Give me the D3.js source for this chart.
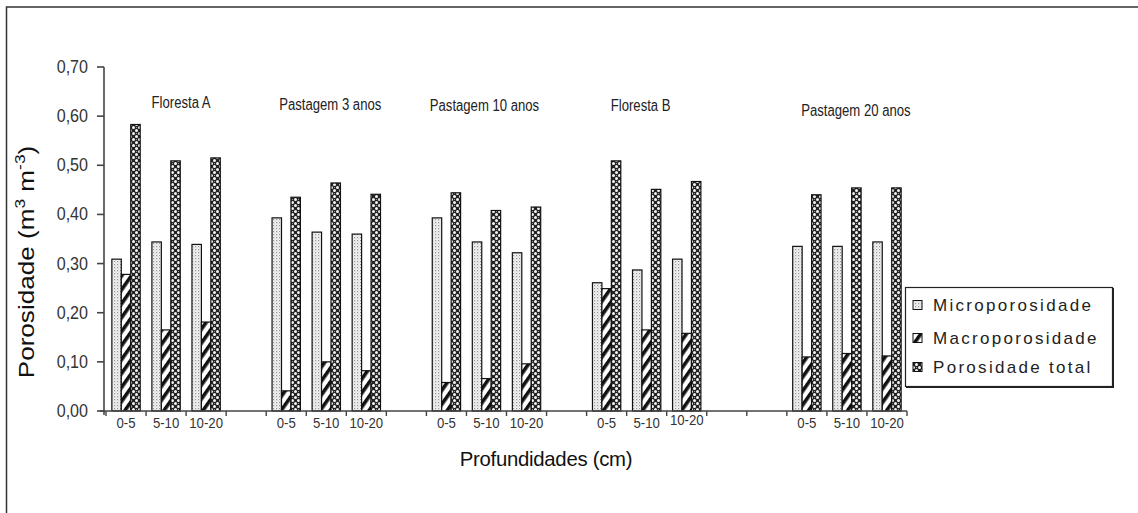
<!DOCTYPE html>
<html>
<head>
<meta charset="utf-8">
<script src="https://cdn.jsdelivr.net/npm/d3@7"></script>
<style>
  html, body { margin: 0; padding: 0; background: #fff; }
  svg { display: block; font-family: "Liberation Sans", Arial, sans-serif; }
</style>
</head>
<body>
<svg id="chart" width="1138" height="513"></svg>
<script>
// ---- data ----
const groups = ["Floresta A", "Pastagem 3 anos", "Pastagem 10 anos", "Floresta B", "Pastagem 20 anos"];
const depths = ["0-5", "5-10", "10-20"];
const series = ["Microporosidade", "Macroporosidade", "Porosidade total"];
const micro = [0.309, 0.344, 0.339, 0.393, 0.364, 0.360, 0.393, 0.344, 0.322, 0.261, 0.287, 0.309, 0.335, 0.335, 0.344];
const macro = [0.278, 0.165, 0.181, 0.041, 0.100, 0.082, 0.058, 0.066, 0.096, 0.249, 0.165, 0.158, 0.110, 0.117, 0.112];
const total = [0.583, 0.509, 0.515, 0.435, 0.464, 0.441, 0.444, 0.408, 0.415, 0.509, 0.451, 0.467, 0.440, 0.454, 0.454];
const yTicks = [0, 0.1, 0.2, 0.3, 0.4, 0.5, 0.6, 0.7];
const emptySlotsAfter = [1, 1, 1, 2, 0];   // empty categories after each group

// ---- build slot list ----
const slots = [];
groups.forEach((g, gi) => {
  depths.forEach((d, di) => slots.push({ id: g + "|" + d, group: g, depth: d, idx: gi * 3 + di }));
  for (let k = 0; k < emptySlotsAfter[gi]; k++) slots.push({ id: "gap" + gi + "_" + k, empty: true });
});
const valuesBySeries = [micro, macro, total];

const svg = d3.select("#chart");

// ---- patterns ----
const defs = svg.append("defs");
const pMicro = defs.append("pattern").attr("id", "pMicro").attr("patternUnits", "userSpaceOnUse")
  .attr("width", 3).attr("height", 3);
pMicro.append("rect").attr("width", 3).attr("height", 3).attr("fill", "#f4f4f4");
pMicro.append("rect").attr("x", 0).attr("y", 0).attr("width", 1.2).attr("height", 1.2).attr("fill", "#939393");
pMicro.append("rect").attr("x", 1.5).attr("y", 1.5).attr("width", 1.0).attr("height", 1.0).attr("fill", "#bdbdbd");

const pMacro = defs.append("pattern").attr("id", "pMacro").attr("patternUnits", "userSpaceOnUse")
  .attr("width", 8).attr("height", 8).attr("patternTransform", "rotate(35)");
pMacro.append("rect").attr("width", 8).attr("height", 8).attr("fill", "#fff");
pMacro.append("rect").attr("x", 0).attr("y", 0).attr("width", 3.6).attr("height", 8).attr("fill", "#111");

const pTotal = defs.append("pattern").attr("id", "pTotal").attr("patternUnits", "userSpaceOnUse")
  .attr("width", 6).attr("height", 6);
pTotal.append("rect").attr("width", 6).attr("height", 6).attr("fill", "#222");
pTotal.append("circle").attr("cx", 1.5).attr("cy", 1.5).attr("r", 1.5).attr("fill", "#f4f4f4");
pTotal.append("circle").attr("cx", 4.5).attr("cy", 4.5).attr("r", 1.5).attr("fill", "#f4f4f4");
pTotal.append("circle").attr("cx", 4.5).attr("cy", 1.5).attr("r", 0.6).attr("fill", "#aaa");
const fills = ["url(#pMicro)", "url(#pMacro)", "url(#pTotal)"];

// ---- frame ----
svg.append("path").attr("d", "M6.5,513 V7 H1138").attr("fill", "none").attr("stroke", "#333").attr("stroke-width", 1.5);

// ---- scales ----
const x = d3.scaleBand().domain(slots.map(s => s.id)).range([106, 907]).paddingInner(0).paddingOuter(0);
const x1 = d3.scaleBand().domain(series).range([0, x.bandwidth()]).paddingInner(0).paddingOuter(0.62);
const y = d3.scaleLinear().domain([0, 0.7]).range([411, 67]);

// ---- bars ----
const dataSlots = slots.filter(s => !s.empty);
const gBars = svg.append("g");
series.forEach((s, si) => {
  gBars.selectAll(null).data(dataSlots).enter().append("rect")
    .attr("x", d => x(d.id) + x1(s))
    .attr("y", d => y(valuesBySeries[si][d.idx]))
    .attr("width", x1.bandwidth())
    .attr("height", d => y(0) - y(valuesBySeries[si][d.idx]))
    .attr("fill", fills[si])
    .attr("stroke", "#111").attr("stroke-width", 1.2);
});

// ---- y axis ----
const yAxis = svg.append("g");
yAxis.append("line").attr("x1", 104).attr("x2", 104).attr("y1", y(0.7)).attr("y2", y(0) + 4)
  .attr("stroke", "#444").attr("stroke-width", 1.6);
yAxis.selectAll(null).data(yTicks).enter().append("line")
  .attr("x1", 97).attr("x2", 104).attr("y1", d => y(d)).attr("y2", d => y(d))
  .attr("stroke", "#444").attr("stroke-width", 1.6);
const fmt = d3.format(".2f");
yAxis.selectAll(null).data(yTicks).enter().append("text")
  .attr("transform", d => `translate(88,${y(d) + 6}) scale(0.92,1.05)`)
  .attr("text-anchor", "end").attr("font-size", 17.5).attr("fill", "#333")
  .text(d => fmt(d).replace(".", ","));

// ---- x axis ----
const xAxis = svg.append("g");
xAxis.append("line").attr("x1", 100).attr("x2", 907).attr("y1", y(0)).attr("y2", y(0))
  .attr("stroke", "#444").attr("stroke-width", 1.6);
const tickXs = slots.map(s => x(s.id)).concat([x(slots[slots.length - 1].id) + x.bandwidth()]);
xAxis.selectAll(null).data(tickXs).enter().append("line")
  .attr("x1", d => d).attr("x2", d => d).attr("y1", y(0)).attr("y2", y(0) + 5)
  .attr("stroke", "#444").attr("stroke-width", 1.4);
xAxis.selectAll(null).data(dataSlots).enter().append("text")
  .attr("transform", d => `translate(${x(d.id) + x.bandwidth() / 2},${(d.group === "Floresta B" && d.depth === "10-20") ? 425 : 428}) scale(0.85,1)`)
  .attr("text-anchor", "middle").attr("font-size", 15.5).attr("fill", "#333")
  .text(d => d.depth);

// ---- group labels ----
const groupLabelOffset = [[15, 108], [4, 110], [-2, 111], [-6, 111], [9, 116]];
svg.append("g").selectAll(null).data(groups).enter().append("text")
  .attr("transform", (g, i) => {
    const cx = x(g + "|5-10") + x.bandwidth() / 2 + groupLabelOffset[i][0];
    return `translate(${cx},${groupLabelOffset[i][1]}) scale(0.82,1)`;
  })
  .attr("text-anchor", "middle").attr("font-size", 16).attr("fill", "#222")
  .text(g => g);

// ---- axis titles ----
svg.append("text").attr("transform", "translate(546,466) scale(0.97,1)").attr("text-anchor", "middle")
  .attr("font-size", 21).attr("fill", "#111").attr("letter-spacing", -0.3)
  .text("Profundidades (cm)");

const yt = svg.append("text").attr("transform", "translate(34,262) rotate(-90) scale(1.16,1)")
  .attr("text-anchor", "middle").attr("font-size", 22.5).attr("fill", "#111");
yt.append("tspan").text("Porosidade (m");
yt.append("tspan").attr("font-size", 15).attr("dy", -9).text("3");
yt.append("tspan").attr("dy", 9).text(" m");
yt.append("tspan").attr("font-size", 15).attr("dy", -9).text("-3");
yt.append("tspan").attr("dy", 9).text(")");

// ---- legend ----
const lg = svg.append("g");
lg.append("rect").attr("x", 905.5).attr("y", 287.5).attr("width", 207).attr("height", 99)
  .attr("fill", "#fff").attr("stroke", "#222").attr("stroke-width", 1.2);
lg.append("path").attr("d", "M1113,288 V387 H906").attr("fill", "none").attr("stroke", "#222").attr("stroke-width", 2);
const lgY = [305, 338, 367];
series.forEach((s, i) => {
  lg.append("rect").attr("x", 913).attr("y", lgY[i] - 4.5).attr("width", 9).attr("height", 9)
    .attr("fill", fills[i]).attr("stroke", "#111").attr("stroke-width", 1);
  lg.append("text").attr("x", 933).attr("y", lgY[i] + 6).attr("font-size", 17)
    .attr("letter-spacing", 2.3).attr("fill", "#222").text(s);
});
</script>
</body>
</html>
